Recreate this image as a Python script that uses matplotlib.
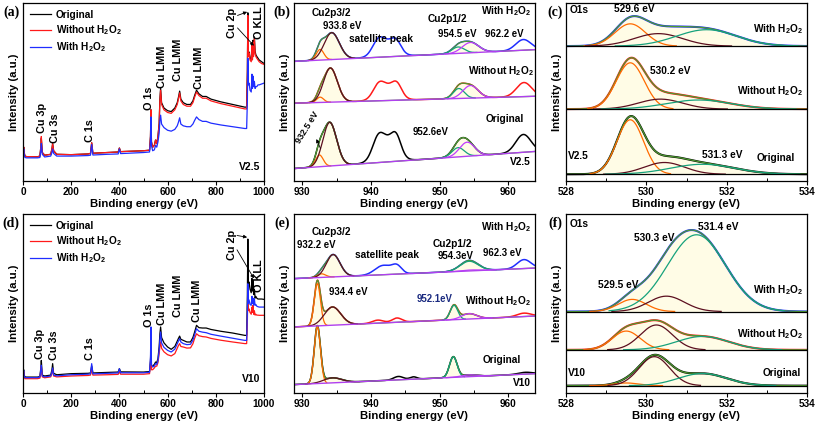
import numpy as np
import matplotlib.pyplot as plt
from matplotlib.ticker import MultipleLocator

plt.rcParams['font.family'] = ['Liberation Sans', 'DejaVu Sans']
plt.rcParams['font.weight'] = 'bold'
plt.rcParams['axes.labelweight'] = 'bold'
plt.rcParams['mathtext.fontset'] = 'custom'
plt.rcParams['mathtext.rm'] = 'Liberation Sans:bold'
plt.rcParams['mathtext.default'] = 'rm'

H2O2 = 'H$_2$O$_2$'
names = ['Original', 'Without ' + H2O2, 'With ' + H2O2]
colors = ['black', '#ff1a1a', '#1f2dff']
ORANGE = '#ff6a00'
MAROON = '#5c0f1f'
TEAL = '#16a27c'
MAGENTA = '#c03cff'
GREEN = '#4d9a30'
PURPLE = '#b040f0'
FILL = '#fffce6'

# ---- survey spectra (a: V2.5, d: V10), intensity in % of axis height
survey_x = [0, 3, 5, 8, 15, 60, 70, 74, 76, 80, 90, 115, 120, 123, 127, 140, 200,
            270, 280, 285, 290, 350, 395, 400, 405, 500, 525, 529, 531, 533, 538,
            545, 550, 555, 560, 565, 568, 571, 575, 585, 600, 615, 630, 640, 645,
            650, 655, 665, 680, 695, 705, 712, 720, 730, 745, 760, 780, 820, 870,
            920, 928, 931, 933, 935, 938, 942, 947, 950, 952, 954, 957, 960, 963,
            966, 970, 975, 980, 990, 1000]

a_orig = [15, 19, 16, 14, 13.7, 13.6, 14, 19, 24, 16, 14.5, 15, 18, 21, 17, 15, 14.8,
          15.2, 15.5, 21.5, 15.6, 16, 16.3, 18.5, 16.5, 17, 17.3, 25, 40, 22, 19,
          20, 23, 21, 25, 32.5, 46, 52, 44, 41, 39.5, 39, 41, 44, 47,
          50.5, 46, 44, 43, 43, 45, 48, 51, 49, 47.5, 47.5, 46, 44.5, 43,
          41.5, 41.5, 62, 94.5, 71, 72.5, 69, 68, 77, 69, 79, 71, 81, 73,
          71, 70, 69, 68, 67, 66]
a_without = [15, 19, 16, 14, 13.7, 13.6, 14, 19, 25, 16, 14.5, 15, 18, 21, 17, 15, 14.8,
             15.2, 15.5, 21.5, 15.6, 16, 16.3, 18.5, 16.5, 17, 17.3, 25, 40, 22, 19,
             20, 23, 21, 25, 32, 45, 51, 43, 40, 38.5, 38, 40, 43, 46,
             49.5, 45, 43, 42, 42, 44, 47, 50, 48, 46.5, 46.5, 45, 43.5, 42,
             40.5, 40.5, 60, 93, 70, 72, 68, 67, 76, 68, 78, 70, 80, 72,
             70, 69, 68, 67, 66, 65.5]
a_with = [14.5, 18, 15, 13.2, 13, 13, 13.2, 17, 21, 15, 13.5, 14, 16, 18, 15.5, 14, 14,
          14.3, 14.5, 20.5, 14.6, 15, 15.2, 18, 15.4, 16, 16.3, 22, 36, 20, 17,
          17.5, 20, 19, 22, 27, 34, 37, 32, 30, 28.5, 28, 29, 31, 33,
          35.5, 32, 31, 30.5, 30.5, 32, 34, 36, 34.5, 33.5, 33.5, 32.5, 31.5, 30.5,
          29.5, 29.5, 45, 69, 54, 55, 51, 50, 60, 52, 59, 53, 56, 52,
          53, 53, 54, 54, 54.5, 55]

d_orig = [11, 13, 10, 9, 8.9, 8.9, 9.2, 14, 18.2, 10, 9.5, 10, 13, 16.4, 11, 10.2, 10.8,
          11, 11.2, 15.1, 11.2, 11.5, 11.7, 13.6, 11.8, 11.7, 12, 18, 29, 15, 15,
          16, 17.3, 17, 19.2, 26, 33, 36.9, 31, 28, 25.7, 24.4, 26, 29, 30.5,
          31.8, 30, 29.4, 28.5, 28.5, 31, 34, 37.8, 36.5, 36.3, 36.3, 35.5, 34.5, 33.5,
          32.2, 32.2, 55, 86, 60, 62, 58, 56, 64, 57, 63, 55, 58, 53,
          54, 53, 52.5, 52.5, 52.5, 52.3]
d_without = [10, 12, 9, 8, 8, 8, 8.3, 12, 15, 9, 8.5, 9, 11, 13.5, 9.5, 9, 9.5,
             9.8, 10, 13, 10, 10.2, 10.4, 12, 10.5, 10.5, 10.8, 16, 26.6, 13, 13,
             14, 15, 15, 17, 22, 26, 28.5, 25, 23, 21.4, 20.7, 22, 25, 26.5,
             27.6, 26, 25.7, 25.1, 25.2, 27.5, 30.5, 33.1, 32, 31.5, 31.3, 30.5, 29.5, 28.5,
             27.6, 27.6, 40, 57, 46, 47, 45, 44, 48, 45, 49, 44, 46, 43.5,
             44, 43.5, 43.5, 43.4, 43.4, 43.4]
d_with = [10.5, 12.5, 9.5, 8.6, 8.6, 8.6, 8.9, 13, 15.5, 9.5, 9, 9.5, 11.5, 14, 10, 9.6, 10.2,
          10.5, 10.7, 16.4, 10.7, 11, 11.2, 13.6, 11.3, 11.3, 11.6, 20, 36.9, 16, 14.5,
          15, 16.5, 16, 18, 24, 30, 34.1, 28, 25.5, 23.8, 22.9, 24.5, 27.5, 29,
          30.4, 28.5, 27.6, 27, 27.2, 29.5, 32.5, 35.9, 34.5, 34, 33.7, 32.8, 31.8, 30.6,
          29.4, 29.4, 45, 61, 50, 52, 49.5, 49, 54, 50, 53, 49, 52.7, 49,
          49.5, 48.5, 48.2, 48, 48, 48]

survey_labels = ['Cu 3p', 'Cu 3s', 'C 1s', 'O 1s', 'Cu LMM', 'Cu LMM', 'Cu LMM']
a_label_x = [79, 131, 280, 523, 576, 643, 730]
a_label_y = [27, 21.5, 22, 40, 52.5, 56, 51.5]
d_label_x = [72, 127, 279, 523, 575, 645, 721]
d_label_y = [19.2, 18.2, 18.2, 37, 37.8, 42.5, 39.7]

# ---- Cu 2p fits, order: Original, Without, With; peaks as (centre eV, height, sigma)
b_base_left = [7.0, 43.7, 67.2]
b_base_right = [16.6, 47.6, 73.8]
b_orange = [(932.5, 6.6, 0.55), (932.6, 3.0, 0.5), (932.6, 6.0, 0.55)]
b_maroon = [(934.0, 24.5, 1.0), (934.1, 19.2, 1.0), (934.3, 15.1, 1.1)]
b_teal = [(952.7, 5.2, 0.9), (952.8, 5.6, 0.8), (952.7, 3.6, 0.9)]
b_magenta = [(954.0, 7.9, 1.1), (954.5, 7.1, 1.1), (954.5, 5.8, 1.2)]
b_sat = [[(942.3, 12.0, 1.4), (941.0, 8.0, 0.8), (943.7, 8.6, 0.7), (962.2, 10.0, 1.1)],
         [(942.4, 7.5, 1.4), (941.1, 5.5, 0.8), (943.8, 5.8, 0.7), (962.3, 7.9, 1.1)],
         [(942.3, 8.0, 1.4), (941.0, 5.5, 0.8), (943.7, 5.0, 0.7), (962.2, 6.0, 1.1)]]

e_base_left = [4.7, 36.9, 63.9]
e_base_right = [10.8, 43.0, 69.8]
e_orange = [(932.2, 31.7, 0.45), (932.2, 23.6, 0.45), (932.8, 2.0, 0.6)]
e_maroon = [(934.4, 2.8, 1.3), (934.4, 10.2, 1.2), (934.5, 12.5, 1.0)]
e_teal = [(952.0, 11.5, 0.55), (952.1, 8.0, 0.55), (954.3, 5.4, 1.3)]
e_magenta = [(954.3, 1.0, 1.1), (954.3, 3.0, 1.1), (954.5, 0.5, 1.2)]
e_sat = [[(944.0, 1.9, 0.7), (946.2, 1.3, 0.5), (962.5, 1.0, 1.0)],
         [(941.0, 1.7, 0.8), (943.8, 2.4, 0.7), (962.3, 1.9, 1.0)],
         [(941.8, 5.2, 1.2), (943.8, 4.2, 0.7), (962.3, 5.0, 1.0)]]

# ---- O 1s fits
c_base = [3.8, 40.4, 75.8]
c_orange = [(529.6, 30.6, 0.33), (529.6, 26.0, 0.35), (529.6, 12.5, 0.38)]
c_maroon = [(530.45, 6.6, 0.5), (530.35, 5.6, 0.55), (530.3, 7.0, 0.6)]
c_teal = [(531.4, 5.6, 0.8), (531.3, 5.1, 0.8), (531.5, 9.2, 0.75)]

f_base = [4.1, 24.1, 45.5]
f_orange = [(529.5, 1.5, 0.3), (529.5, 10.5, 0.35), (529.65, 6.8, 0.35)]
f_maroon = [(530.2, 16.2, 0.38), (530.25, 13.9, 0.4), (530.5, 8.6, 0.45)]
f_teal = [(531.4, 6.8, 0.6), (531.4, 7.5, 0.65), (531.25, 42.9, 0.72)]


def gauss(x, p):
    c, h, s = p
    return h * np.exp(-0.5 * ((x - c) / s) ** 2)


def comp_line(ax, x, base, p, col):
    y = gauss(x, p)
    y = np.where(y > 0.01 * p[1], base + y, np.nan)
    ax.plot(x, y, color=col, lw=0.9)


def draw_cu(ax, bl, br, orange, maroon, teal, magenta, sat):
    x = np.linspace(928.8, 963.9, 900)
    for i in range(3):
        base = bl[i] + (br[i] - bl[i]) * (x - x[0]) / (x[-1] - x[0])
        comps = [orange[i], maroon[i], teal[i], magenta[i]]
        env = base + sum(gauss(x, p) for p in comps)
        exp_y = env + sum(gauss(x, p) for p in sat[i])
        ax.fill_between(x, base, env, color=FILL, lw=0)
        ax.plot(x, exp_y, color=colors[i], lw=1.1)
        ax.plot(x, env, color=GREEN, lw=0.9)
        for p, col in zip(comps, [ORANGE, MAROON, TEAL, MAGENTA]):
            comp_line(ax, x, base, p, col)
        ax.plot(x, base, color=PURPLE, lw=1.0)
    ax.set_xlim(928.8, 963.9)
    ax.xaxis.set_major_locator(MultipleLocator(10))
    ax.xaxis.set_minor_locator(MultipleLocator(5))


def draw_o(ax, base_levels, orange, maroon, teal):
    x = np.linspace(528, 534, 700)
    for i in range(3):
        base = np.full_like(x, base_levels[i])
        comps = [orange[i], maroon[i], teal[i]]
        env = base + sum(gauss(x, p) for p in comps)
        ax.fill_between(x, base, env, color=FILL, lw=0)
        ax.plot(x, env, color=colors[i], lw=1.5)
        ax.plot(x, env, color=GREEN, lw=0.9)
        for p, col in zip(comps, [ORANGE, MAROON, TEAL]):
            comp_line(ax, x, base, p, col)
        ax.axhline(base_levels[i], color='black', lw=0.9)
    ax.set_xlim(528, 534)
    ax.xaxis.set_major_locator(MultipleLocator(2))
    ax.xaxis.set_minor_locator(MultipleLocator(1))


def draw_survey(ax, ys, lx, ly, cu2p_y, kll_y, arrows):
    for y, c, n in zip(ys, colors, names):
        ax.plot(survey_x, y, color=c, lw=0.9, label=n)
    for s, x0, y0 in zip(survey_labels, lx, ly):
        ax.text(x0, y0, s, rotation=90, ha='center', va='bottom', fontsize=7.8)
    ax.text(869, cu2p_y, 'Cu 2p', rotation=90, ha='center', va='center', fontsize=7.8)
    ax.text(978, kll_y, 'O KLL', rotation=90, ha='center', va='center', fontsize=7.8)
    for (x1, y1), (x2, y2) in arrows:
        ax.annotate('', xy=(x2, y2), xytext=(x1, y1),
                    arrowprops=dict(arrowstyle='-|>', lw=0.6, color='black',
                                    mutation_scale=5, shrinkA=0, shrinkB=0))
    ax.set_xlim(0, 1000)
    ax.xaxis.set_major_locator(MultipleLocator(200))
    ax.xaxis.set_minor_locator(MultipleLocator(100))
    ax.legend(loc='upper left', frameon=False, fontsize=7.3, handlelength=2.1,
              handletextpad=0.5, labelspacing=0.35, borderaxespad=0.25)


fig = plt.figure(figsize=(8.17, 4.25), dpi=100)
W, H = 817.0, 425.0
lefts = [23, 294, 566]
rows = [(3, 181), (214, 393)]
axes = []
for top, bot in rows:
    for l in lefts:
        ax = fig.add_axes([l / W, 1 - bot / H, 241 / W, (bot - top) / H])
        ax.set_ylim(0, 100)
        ax.set_yticks([])
        for sp in ax.spines.values():
            sp.set_linewidth(0.9)
        ax.tick_params(axis='x', which='major', direction='out', length=3, width=0.8,
                       labelsize=7.2, pad=1.5)
        ax.tick_params(axis='x', which='minor', direction='in', length=2, width=0.7)
        ax.set_xlabel('Binding energy (eV)', fontsize=8.2, labelpad=1)
        ax.set_ylabel('Intensity (a.u.)', fontsize=8.2, labelpad=3)
        axes.append(ax)
ax_a, ax_b, ax_c, ax_d, ax_e, ax_f = axes

# (a)
draw_survey(ax_a, [a_orig, a_without, a_with], a_label_x, a_label_y, 89, 89,
            [((890, 93), (930, 95)), ((890, 86), (958, 76))])
ax_a.text(983, 7.6, 'V2.5', ha='right', va='center', fontsize=7.5)

# (d)
draw_survey(ax_d, [d_orig, d_without, d_with], d_label_x, d_label_y, 82.5, 65.7,
            [((888, 88), (930, 87)), ((888, 80), (958, 64))])
ax_d.text(983, 8, 'V10', ha='right', va='center', fontsize=7.5)

# (b)
draw_cu(ax_b, b_base_left, b_base_right, b_orange, b_maroon, b_teal, b_magenta, b_sat)
fs = 7.3
ax_b.text(934.3, 94.2, 'Cu2p3/2', ha='center', va='center', fontsize=fs)
ax_b.text(935.8, 87, '933.8 eV', ha='center', va='center', fontsize=6.9)
ax_b.text(941.4, 80, 'satellite peak', ha='center', va='center', fontsize=fs)
ax_b.text(951.1, 90.8, 'Cu2p1/2', ha='center', va='center', fontsize=fs)
ax_b.text(952.6, 82.5, '954.5 eV', ha='center', va='center', fontsize=6.9)
ax_b.text(959.4, 82.5, '962.2 eV', ha='center', va='center', fontsize=6.9)
ax_b.text(963.3, 95.7, 'With ' + H2O2, ha='right', va='center', fontsize=fs)
ax_b.text(963.8, 61.6, 'Without ' + H2O2, ha='right', va='center', fontsize=fs)
ax_b.text(962.3, 34.8, 'Original', ha='right', va='center', fontsize=fs)
ax_b.text(963.3, 10.4, 'V2.5', ha='right', va='center', fontsize=fs)
ax_b.text(930.7, 30, '932.5 eV', ha='center', va='center', fontsize=6.5, rotation=58)
ax_b.annotate('', xy=(931.9, 25), xytext=(932.8, 17),
              arrowprops=dict(arrowstyle='-|>', lw=0.6, color='black', mutation_scale=5))
ax_b.text(948.7, 27.7, '952.6eV', ha='center', va='center', fontsize=6.9)

# (e)
draw_cu(ax_e, e_base_left, e_base_right, e_orange, e_maroon, e_teal, e_magenta, e_sat)
ax_e.text(934.3, 90, 'Cu2p3/2', ha='center', va='center', fontsize=fs)
ax_e.text(932.1, 82.5, '932.2 eV', ha='center', va='center', fontsize=6.9)
ax_e.text(942.3, 77.3, 'satellite peak', ha='center', va='center', fontsize=fs)
ax_e.text(951.9, 83.4, 'Cu2p1/2', ha='center', va='center', fontsize=fs)
ax_e.text(952.3, 76.5, '954.3eV', ha='center', va='center', fontsize=6.9)
ax_e.text(959.2, 78.4, '962.3 eV', ha='center', va='center', fontsize=6.9)
ax_e.text(963.3, 92.7, 'With ' + H2O2, ha='right', va='center', fontsize=fs)
ax_e.text(963.3, 51.2, 'Without ' + H2O2, ha='right', va='center', fontsize=fs)
ax_e.text(961.9, 18.2, 'Original', ha='right', va='center', fontsize=fs)
ax_e.text(963.3, 5.8, 'V10', ha='right', va='center', fontsize=fs)
ax_e.text(936.7, 56.4, '934.4 eV', ha='center', va='center', fontsize=6.9)
ax_e.text(949.2, 52.3, '952.1eV', ha='center', va='center', fontsize=6.9, color='#1a2a80')

# (c)
draw_o(ax_c, c_base, c_orange, c_maroon, c_teal)
ax_c.text(528.1, 95.9, 'O1s', ha='left', va='center', fontsize=fs)
ax_c.text(529.7, 96.8, '529.6 eV', ha='center', va='center', fontsize=fs)
ax_c.text(533.9, 85.5, 'With ' + H2O2, ha='right', va='center', fontsize=fs)
ax_c.text(530.6, 62, '530.2 eV', ha='center', va='center', fontsize=fs)
ax_c.text(533.9, 50.4, 'Without ' + H2O2, ha='right', va='center', fontsize=fs)
ax_c.text(528.05, 14.1, 'V2.5', ha='left', va='center', fontsize=fs)
ax_c.text(531.9, 14.7, '531.3 eV', ha='center', va='center', fontsize=fs)
ax_c.text(533.7, 13.2, 'Original', ha='right', va='center', fontsize=fs)

# (f)
draw_o(ax_f, f_base, f_orange, f_maroon, f_teal)
ax_f.text(528.1, 94.6, 'O1s', ha='left', va='center', fontsize=fs)
ax_f.text(531.8, 92.7, '531.4 eV', ha='center', va='center', fontsize=fs)
ax_f.text(530.2, 86.6, '530.3 eV', ha='center', va='center', fontsize=fs)
ax_f.text(529.3, 60.5, '529.5 eV', ha='center', va='center', fontsize=fs)
ax_f.text(533.9, 57.4, 'With ' + H2O2, ha='right', va='center', fontsize=fs)
ax_f.text(533.9, 33.1, 'Without ' + H2O2, ha='right', va='center', fontsize=fs)
ax_f.text(528.05, 11.4, 'V10', ha='left', va='center', fontsize=fs)
ax_f.text(533.85, 11.4, 'Original', ha='right', va='center', fontsize=fs)

# panel letters
for lab, (px, py) in zip('abcdef', [(11, 12), (282, 12), (555, 12),
                                      (11, 223), (282, 223), (555, 223)]):
    fig.text(px / W, 1 - py / H, '(%s)' % lab, family='Liberation Serif',
             fontweight='bold', fontsize=10, ha='center', va='center')

fig.savefig('out.png', dpi=100)
